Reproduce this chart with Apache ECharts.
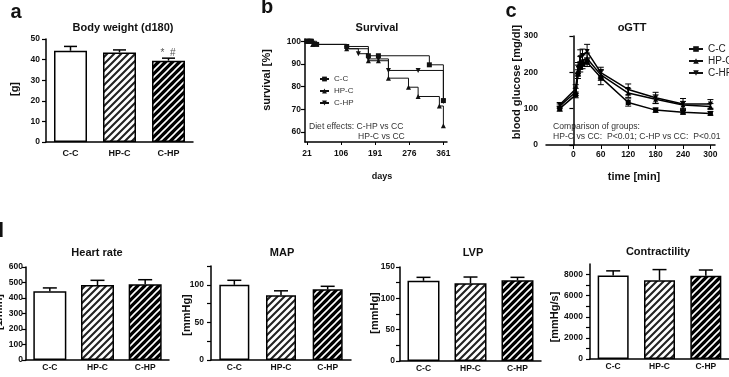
<!DOCTYPE html>
<html>
<head>
<meta charset="utf-8">
<script src="https://cdn.jsdelivr.net/npm/echarts@6.0.0/dist/echarts.min.js"></script>
<style>
  html, body { margin: 0; padding: 0; background: #fff; }
  #main { width: 729px; height: 377px; }
</style>
</head>
<body>
<div id="main"></div>
<script>
var groups = ['C-C', 'HP-C', 'C-HP'];

// a: body weight (d180)
var bwMean = [44.3, 43.5, 39.5];
var bwErr = [2.1, 1.2, 1.2];

// b: survival (Kaplan-Meier steps)
var survDaysCC = [21, 26, 32, 45, 120, 174, 199, 326, 361];
var survCC = [100, 100, 100, 98.6, 97.7, 93.6, 93.6, 89.6, 73.8];
var survDaysHPC = [21, 28, 35, 120, 174, 199, 224, 274, 298, 351, 361];
var survHPC = [100, 100, 98.6, 96.7, 91.4, 91.4, 83.7, 79.7, 75.6, 71.4, 62.7];
var survDaysCHP = [21, 30, 40, 120, 149, 174, 199, 224, 298, 361];
var survCHP = [100, 100, 98.6, 96.7, 94.5, 92.2, 92.2, 87.1, 87.1, 73.4];
var survTicks = [21, 106, 191, 276, 361];
var survYTicks = [60, 70, 80, 90, 100];

// c: oGTT
var gttTime = [-30, 5, 10, 15, 20, 30, 60, 120, 180, 240, 300];
var gttCC = [100, 138, 195, 215, 222, 228, 186, 117, 96, 90, 87];
var gttCCErr = [7, 8, 12, 14, 12, 12, 20, 10, 6, 5, 5];
var gttHPC = [107, 146, 205, 226, 233, 238, 193, 143, 126, 110, 106];
var gttHPCErr = [6, 10, 15, 18, 15, 15, 15, 12, 12, 10, 8];
var gttCHP = [111, 154, 212, 240, 246, 257, 199, 153, 130, 113, 113];
var gttCHPErr = [6, 12, 15, 22, 18, 20, 15, 15, 15, 15, 12];
var gttXTicks = [0, 60, 120, 180, 240, 300];

// d: haemodynamics
var hrMean = [443, 484, 488];
var hrErr = [22, 30, 30];
var mapMean = [100, 86, 94];
var mapErr = [6, 6, 4];
var lvpMean = [128, 124, 129];
var lvpErr = [5.5, 10, 4.5];
var conMean = [7900, 7460, 7880];
var conErr = [450, 1010, 550];

var FONT = '"Liberation Sans", Arial, sans-serif';

function hatch(bg, fg, lw) {
  var s = 7;
  var c = document.createElement('canvas');
  c.width = s; c.height = s;
  var g = c.getContext('2d');
  g.fillStyle = bg;
  g.fillRect(0, 0, s, s);
  g.strokeStyle = fg;
  g.lineWidth = lw;
  g.beginPath();
  g.moveTo(-1, s + 1); g.lineTo(s + 1, -1);
  g.moveTo(-1, 1); g.lineTo(1, -1);
  g.moveTo(s - 1, s + 1); g.lineTo(s + 1, s - 1);
  g.stroke();
  return { image: c, repeat: 'repeat' };
}
var fills = ['#fff', hatch('#fff', '#222', 2.1), hatch('#000', '#fff', 1.6)];

function range(a, b, step) {
  var r = [];
  for (var v = a; v <= b + 1e-9; v += step) r.push(v);
  return r;
}
function zip(xs, ys) {
  return xs.map(function (x, i) { return [x, ys[i]]; });
}
function plain(v) { return String(v); }

function valAxis(gi, min, max, labels, ticks, margin) {
  return {
    type: 'value', gridIndex: gi, min: min, max: max,
    axisLine: { show: true, lineStyle: { color: '#000', width: 1.5 } },
    axisTick: { show: true, length: 4, lineStyle: { color: '#000', width: 1.2 }, customValues: ticks },
    axisLabel: { fontSize: 8.5, fontWeight: 'bold', color: '#111', fontFamily: FONT, margin: margin, customValues: labels, formatter: plain },
    splitLine: { show: false }
  };
}
function catAxis(gi, fs, margin) {
  return {
    type: 'category', gridIndex: gi, data: groups,
    axisLine: { lineStyle: { color: '#000', width: 1.5 } },
    axisTick: { show: false },
    axisLabel: { fontSize: fs, fontWeight: 'bold', color: '#111', fontFamily: FONT, margin: margin }
  };
}
function barSeries(gi, vals, bw) {
  return {
    type: 'bar', xAxisIndex: gi, yAxisIndex: gi, barWidth: bw, silent: true,
    itemStyle: { borderColor: '#000', borderWidth: 1.5 },
    data: vals.map(function (v, i) { return { value: v, itemStyle: { color: fills[i] } }; })
  };
}
function errSeries(gi, xs, vals, errs, half, both, lw) {
  return {
    type: 'custom', xAxisIndex: gi, yAxisIndex: gi, silent: true, z: 4,
    data: vals.map(function (v, i) { return [xs[i], v, errs[i]]; }),
    renderItem: function (params, api) {
      var x = api.value(0), v = api.value(1), e = api.value(2);
      var lo = api.coord([x, both ? v - e : v]);
      var hi = api.coord([x, v + e]);
      var st = { stroke: '#000', lineWidth: lw };
      var kids = [
        { type: 'line', shape: { x1: lo[0], y1: lo[1], x2: hi[0], y2: hi[1] }, style: st },
        { type: 'line', shape: { x1: hi[0] - half, y1: hi[1], x2: hi[0] + half, y2: hi[1] }, style: st }
      ];
      if (both) kids.push({ type: 'line', shape: { x1: lo[0] - half, y1: lo[1], x2: lo[0] + half, y2: lo[1] }, style: st });
      return { type: 'group', children: kids };
    }
  };
}

var invTri = 'path://M0,0L10,0L5,9Z';
function stepLine(name, xs, ys, sym) {
  return {
    type: 'line', name: name, xAxisIndex: 1, yAxisIndex: 1, step: 'end',
    data: zip(xs, ys), symbol: sym, symbolSize: 5, showAllSymbol: true,
    lineStyle: { color: '#111', width: 1 }, itemStyle: { color: '#111' }
  };
}
function gttLine(name, ys, sym) {
  return {
    type: 'line', name: name, xAxisIndex: 2, yAxisIndex: 2,
    data: zip(gttTime, ys), symbol: sym, symbolSize: 5, showAllSymbol: true,
    lineStyle: { color: '#000', width: 1.5 }, itemStyle: { color: '#000' }
  };
}

function txt(s, x, y, font, extra) {
  var o = {
    type: 'text', x: x, y: y, silent: true,
    style: { text: s, font: font, fill: '#111', textAlign: 'center', textVerticalAlign: 'middle' }
  };
  if (extra) for (var k in extra) {
    if (k === 'rotation') o.rotation = extra[k]; else o.style[k] = extra[k];
  }
  return o;
}
var BIG = 'bold 20px ' + FONT;
var TTL = 'bold 11px ' + FONT;
var NM = 'bold 11px ' + FONT;
var NOTE = '8.6px ' + FONT;
var ROT = { rotation: Math.PI / 2 };

var chart = echarts.init(document.getElementById('main'));
var option = {
  animation: false,
  backgroundColor: '#fff',
  grid: [
    { left: 46, top: 39, width: 147, height: 103 },
    { left: 305, top: 39, width: 142, height: 103 },
    { left: 546, top: 36, width: 169, height: 109 },
    { left: 26, top: 267, width: 143, height: 93 },
    { left: 211, top: 266, width: 140, height: 94 },
    { left: 400, top: 267, width: 141, height: 94 },
    { left: 590, top: 264, width: 139, height: 95 }
  ],
  xAxis: [
    catAxis(0, 9, 7),
    {
      type: 'value', gridIndex: 1, min: 16, max: 370,
      axisLine: { lineStyle: { color: '#000', width: 1.5 } },
      axisTick: { length: 3, lineStyle: { color: '#000' }, customValues: survTicks },
      axisLabel: { fontSize: 8.5, fontWeight: 'bold', color: '#111', fontFamily: FONT, margin: 7, customValues: survTicks, formatter: plain },
      splitLine: { show: false }
    },
    {
      type: 'value', gridIndex: 2, min: -60, max: 310,
      axisLine: { lineStyle: { color: '#000', width: 1.5 } },
      axisTick: { length: 4, lineStyle: { color: '#000' }, customValues: gttXTicks },
      axisLabel: { fontSize: 8.5, fontWeight: 'bold', color: '#111', fontFamily: FONT, margin: 5, customValues: gttXTicks, formatter: plain },
      splitLine: { show: false }
    },
    catAxis(3, 8.5, 3),
    catAxis(4, 8.5, 3),
    catAxis(5, 8.5, 3),
    catAxis(6, 8.5, 3)
  ],
  yAxis: [
    valAxis(0, 0, 50, range(0, 50, 10), range(0, 50, 10), 6),
    valAxis(1, 55.5, 101, survYTicks, survYTicks, 4),
    valAxis(2, 0, 300, [0, 100, 200, 300], [0, 100, 200, 300], 8),
    valAxis(3, 0, 600, range(0, 600, 100), range(0, 600, 100), 3),
    valAxis(4, 0, 125, [0, 50, 100], range(0, 125, 25), 7),
    valAxis(5, 0, 150, [0, 50, 100, 150], range(0, 150, 25), 5),
    valAxis(6, 0, 9000, range(0, 8000, 2000), range(0, 8000, 1000), 7)
  ],
  legend: [
    {
      data: groups, orient: 'vertical', left: 314, top: 70, itemWidth: 9, itemHeight: 6, itemGap: 4,
      selectedMode: false, textStyle: { fontSize: 8, color: '#333', fontFamily: FONT }
    },
    {
      data: groups, orient: 'vertical', left: 683, top: 39, itemWidth: 14, itemHeight: 7, itemGap: 2,
      selectedMode: false, textStyle: { fontSize: 10, color: '#222', fontFamily: FONT }
    }
  ],
  series: [
    barSeries(0, bwMean, 33),
    errSeries(0, [0, 1, 2], bwMean, bwErr, 6.5, false, 1.5),
    stepLine('C-C', survDaysCC, survCC, 'rect'),
    stepLine('HP-C', survDaysHPC, survHPC, 'triangle'),
    stepLine('C-HP', survDaysCHP, survCHP, invTri),
    gttLine('C-C', gttCC, 'rect'),
    gttLine('HP-C', gttHPC, 'triangle'),
    gttLine('C-HP', gttCHP, invTri),
    errSeries(2, gttTime, gttCC, gttCCErr, 3, true, 1),
    errSeries(2, gttTime, gttHPC, gttHPCErr, 3, true, 1),
    errSeries(2, gttTime, gttCHP, gttCHPErr, 3, true, 1),
    barSeries(3, hrMean, 33),
    errSeries(3, [0, 1, 2], hrMean, hrErr, 7, false, 1.5),
    barSeries(4, mapMean, 30),
    errSeries(4, [0, 1, 2], mapMean, mapErr, 7, false, 1.5),
    barSeries(5, lvpMean, 32),
    errSeries(5, [0, 1, 2], lvpMean, lvpErr, 7, false, 1.5),
    barSeries(6, conMean, 31),
    errSeries(6, [0, 1, 2], conMean, conErr, 7, false, 1.5)
  ],
  graphic: [
    txt('a', 16, 12, BIG),
    txt('b', 267, 7, BIG),
    txt('c', 511, 11, BIG),
    txt('d', 4, 231, BIG, { textAlign: 'right' }),
    txt('Body weight (d180)', 123, 28, TTL),
    txt('Survival', 377, 28, TTL),
    txt('oGTT', 632, 28, TTL),
    txt('Heart rate', 97, 253, TTL),
    txt('MAP', 282, 253, TTL),
    txt('LVP', 473, 253, TTL),
    txt('Contractility', 658, 252, TTL),
    txt('[g]', 15, 89, NM, ROT),
    txt('survival [%]', 267, 80, NM, ROT),
    txt('blood glucose [mg/dl]', 517, 82, NM, ROT),
    txt('[1/min]', -1, 312, NM, ROT),
    txt('[mmHg]', 187, 315, NM, ROT),
    txt('[mmHg]', 375, 313, NM, ROT),
    txt('[mmHg/s]', 555, 317, NM, ROT),
    txt('days', 382, 177, 'bold 9px ' + FONT),
    txt('time [min]', 634, 177, NM),
    txt('*  #', 168, 53, '10px ' + FONT, { fill: '#555' }),
    txt('Diet effects: C-HP vs CC', 309, 127, NOTE, { textAlign: 'left', fill: '#333' }),
    txt('HP-C vs CC', 358, 137, NOTE, { textAlign: 'left', fill: '#333' }),
    txt('Comparison of groups:', 553, 127, NOTE, { textAlign: 'left', fill: '#333' }),
    txt('HP-C vs CC:  P<0.01; C-HP vs CC:  P<0.01', 553, 137, NOTE, { textAlign: 'left', fill: '#333' })
  ]
};
chart.setOption(option);
window.addEventListener('resize', function () { chart.resize(); });
</script>
</body>
</html>
